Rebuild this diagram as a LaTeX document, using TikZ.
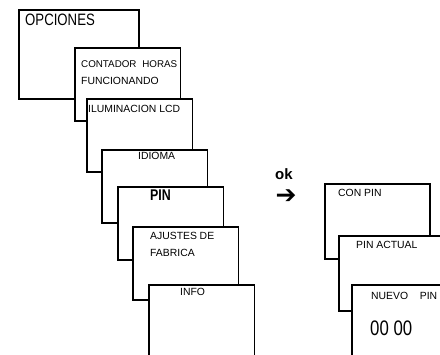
\documentclass[tikz,border=0pt]{standalone}
\usepackage{fontspec}
\setmainfont{Liberation Sans}
\newfontfamily\narrowfont{Liberation Sans}[FakeStretch=0.8]
\newfontfamily\dejavu{DejaVu Sans}
\usetikzlibrary{positioning}

\tikzset{
  panel/.style={draw, line width=1.9pt, fill=white, anchor=north west, inner sep=0pt,
                minimum width=105.5pt, minimum height=73.5pt},
  small/.style={anchor=base west, inner sep=0pt, font=\fontsize{10.4}{12}\selectfont},
  big/.style={anchor=base west, inner sep=0pt, font=\narrowfont\fontsize{16.5}{19}\selectfont},
}

\begin{document}
\begin{tikzpicture}[x=1pt, y=-1pt]
    \useasboundingbox (0,0) rectangle (440,355);
    \clip (0,0) rectangle (440,355);
    % menu stack
    \node[panel, minimum width=120pt, minimum height=89pt] (opciones) at (18,9) {};
    \foreach \nm/\px/\py in {contador/74/47, ilum/86/98, idioma/101/149, pin/117/186,
                            ajustes/132/226, info/148/284} {
      \node[panel] (\nm) at (\px,\py) {};
    }
    \node[big] (opcionesTxt) at (25,26) {OPCIONES};
    \node[small, font=\fontsize{9.8}{12}\selectfont] (contadorTxt) at (81,68) {\makebox[96pt][s]{CONTADOR HORAS}};
    \node[small] (funcTxt) at (81,85) {FUNCIONANDO};
    \node[small] (ilumTxt) at (88,113) {ILUMINACION LCD};
    \node[small] (idiomaTxt) at (138,160) {IDIOMA};
    \node[big, font=\narrowfont\bfseries\fontsize{15.5}{18}\selectfont] (pinTxt) at (150,201) {PIN};
    \node[small] (ajustesTxt) at (150,240) {\makebox[64pt][s]{AJUSTES DE}};
    \node[small] (fabricaTxt) at (150,257) {FABRICA};
    \node[small] (infoTxt) at (180,296) {INFO};
    % ok step
    \node[small, font=\bfseries\fontsize{15}{17}\selectfont] (okTxt) at (275,180) {ok};
    \node[inner sep=0pt, font=\dejavu\bfseries\fontsize{25}{26}\selectfont] (okArrow) at (286,196.5) {➔};
    % pin submenu
    \foreach \nm/\px/\py in {conpin/324/183, actual/338/235, nuevo/351/284} {
      \node[panel, minimum width=105pt, minimum height=75pt] (\nm) at (\px,\py) {};
    }
    \node[small] (conpinTxt) at (338,197) {CON PIN};
    \node[small] (actualTxt) at (356,249) {PIN ACTUAL};
    \node[small] (nuevoTxt) at (371,300) {\makebox[66pt][s]{NUEVO PIN}};
    \node[big, font=\narrowfont\fontsize{21}{24}\selectfont] (codeTxt) at (370,336) {00 00};
\end{tikzpicture}
\end{document}
